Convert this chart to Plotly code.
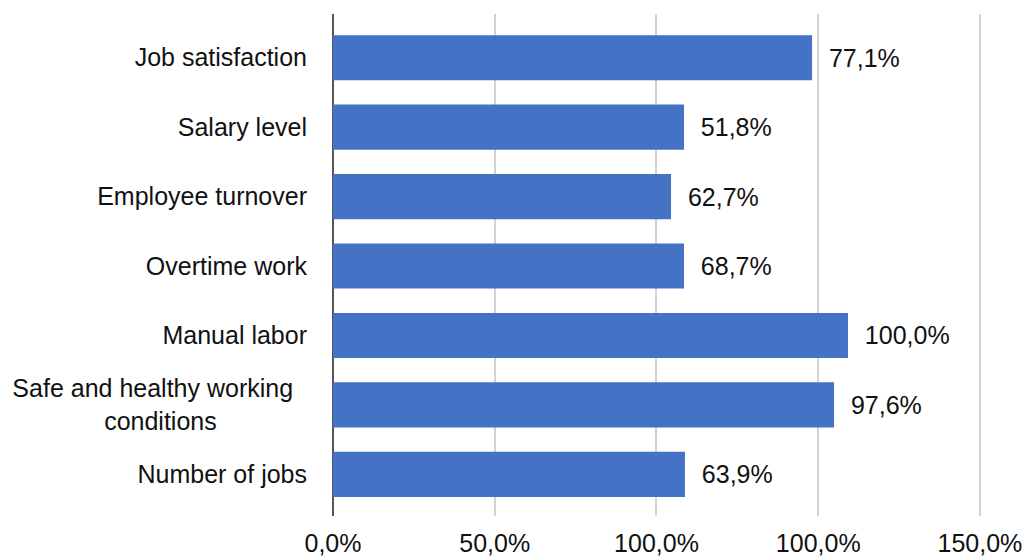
import plotly.graph_objects as go

# Categories, top to bottom
categories = [
    "Job satisfaction",
    "Salary level",
    "Employee turnover",
    "Overtime work",
    "Manual labor",
    "Safe and healthy working conditions",
    "Number of jobs",
]
# Category tick labels as displayed (two-line label padded to look centred)
category_labels = [
    "Job satisfaction",
    "Salary level",
    "Employee turnover",
    "Overtime work",
    "Manual labor",
    "Safe and healthy working\u00a0\u00a0<br>conditions" + "\u00a0" * 13,
    "Number of jobs",
]
# Bar lengths as drawn on the (mislabelled) axis, in axis units
bar_lengths = [148.1, 108.5, 104.5, 108.5, 159.2, 154.9, 108.8]
# Value labels printed next to the bars
value_labels = ["77,1%", "51,8%", "62,7%", "68,7%", "100,0%", "97,6%", "63,9%"]
# Axis ticks as printed in the chart
tick_values = [0, 50, 100, 150, 200]
tick_labels = ["0,0%", "50,0%", "100,0%", "100,0%", "150,0%"]

FONT = "Liberation Sans, Arial, Helvetica, sans-serif"

fig = go.Figure(
    go.Bar(
        x=bar_lengths,
        y=categories,
        orientation="h",
        marker=dict(color="#4472C4", line=dict(width=0)),
        text=["\u00a0\u00a0" + t for t in value_labels],
        textposition="outside",
        textfont=dict(family=FONT, size=25, color="#111111"),
        cliponaxis=False,
        hoverinfo="skip",
    )
)

fig.update_layout(
    width=1029,
    height=558,
    margin=dict(l=333, r=29, t=14, b=42, autoexpand=False),
    paper_bgcolor="white",
    plot_bgcolor="white",
    bargap=0.35,
    showlegend=False,
    font=dict(family=FONT, size=25, color="#111111"),
)

fig.update_xaxes(
    range=[0, 206.2],
    tickvals=tick_values,
    ticktext=tick_labels,
    showgrid=True,
    gridcolor="#d3d3d3",
    gridwidth=1.5,
    zeroline=True,
    zerolinecolor="#555555",
    zerolinewidth=2,
    showline=False,
    ticks="outside",
    ticklen=5,
    tickcolor="rgba(0,0,0,0)",
    tickfont=dict(family=FONT, size=25, color="#111111"),
    automargin=False,
    fixedrange=True,
)

fig.update_yaxes(
    type="category",
    categoryorder="array",
    categoryarray=categories,
    range=[6.6, -0.63],
    tickvals=categories,
    ticktext=category_labels,
    showgrid=False,
    zeroline=False,
    showline=False,
    ticks="outside",
    ticklen=20,
    tickcolor="rgba(0,0,0,0)",
    tickfont=dict(family=FONT, size=25, color="#111111"),
    automargin=False,
    fixedrange=True,
)

fig.write_html(
    "out.html",
    config={"displayModeBar": False},
    post_script="document.body.style.margin='0';document.body.style.overflow='hidden';",
)
